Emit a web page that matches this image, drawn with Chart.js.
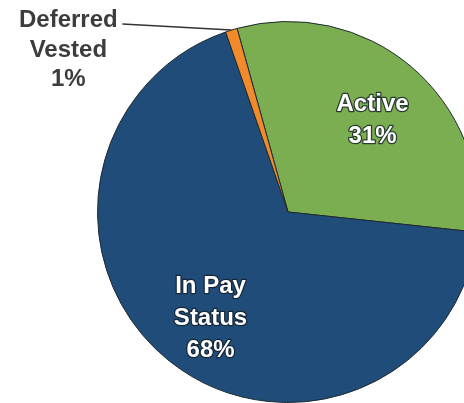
<!DOCTYPE html>
<html>
<head>
<meta charset="utf-8">
<script src="https://cdn.jsdelivr.net/npm/chart.js@4"></script>
<style>
  html, body { margin: 0; padding: 0; background: #fff; overflow: hidden; }
  #wrap { position: absolute; left: 0; top: 0; width: 464px; height: 403px; overflow: hidden; }
  #chart { position: absolute; left: 0; top: 0; }
</style>
</head>
<body>
<div id="wrap"><canvas id="chart" width="576" height="424"></canvas></div>
<script>
const ctx = document.getElementById('chart');

// 加入者の内訳
const categories = ['Active', 'In Pay Status', 'Deferred Vested'];
const labelLines = [['Active'], ['In Pay', 'Status'], ['Deferred', 'Vested']];
const shares = [31, 68, 1];
const sliceColors = ['#7bae50', '#1f4c78', '#f08a2a'];

const FONT = 'bold 24px "Liberation Sans", Arial, sans-serif';
const LINE_H = 32;

// ラベル描画 (小さい扇は外側に引き出し線)
const pieLabels = {
  id: 'pieLabels',
  afterDatasetsDraw(chart) {
    const c = chart.ctx;
    const meta = chart.getDatasetMeta(0);
    c.save();
    c.font = FONT;
    c.textAlign = 'center';
    meta.data.forEach((arc, i) => {
      const mid = (arc.startAngle + arc.endAngle) / 2;
      const lines = labelLines[i].concat([shares[i] + '%']);
      if (shares[i] >= 5) {
        const r = arc.outerRadius * 0.67;
        const x = arc.x + r * Math.cos(mid) + 2;
        const y = arc.y + r * Math.sin(mid) + 6;
        c.textBaseline = 'middle';
        const y0 = y - (lines.length - 1) * LINE_H / 2;
        lines.forEach((t, k) => {
          c.lineJoin = 'round';
          c.lineWidth = 2.5;
          c.strokeStyle = 'rgba(20,30,40,0.8)';
          c.strokeText(t, x, y0 + k * LINE_H);
          c.fillStyle = '#ffffff';
          c.fillText(t, x, y0 + k * LINE_H);
        });
      } else {
        const ex = arc.x + arc.outerRadius * Math.cos(mid);
        const ey = arc.y + arc.outerRadius * Math.sin(mid);
        const lx = ex - 109, ly = ey - 6;
        c.beginPath();
        c.moveTo(ex, ey);
        c.lineTo(lx, ly);
        c.lineWidth = 1.5;
        c.strokeStyle = '#333333';
        c.stroke();
        c.textBaseline = 'alphabetic';
        c.fillStyle = '#3c3c3c';
        lines.forEach((t, k) => {
          c.fillText(t, lx - 54, ly + 3 + k * 29.5);
        });
      }
    });
    c.restore();
  }
};

const myChart = new Chart(ctx, {
  type: 'pie',
  data: {
    labels: categories,
    datasets: [{
      data: shares,
      backgroundColor: sliceColors,
      borderColor: '#1e2a30',
      borderWidth: 1
    }]
  },
  options: {
    responsive: false,
    animation: false,
    rotation: -15.5,
    layout: { padding: 21 },
    plugins: {
      legend: { display: false },
      tooltip: { enabled: false }
    }
  },
  plugins: [pieLabels]
});
</script>
</body>
</html>
